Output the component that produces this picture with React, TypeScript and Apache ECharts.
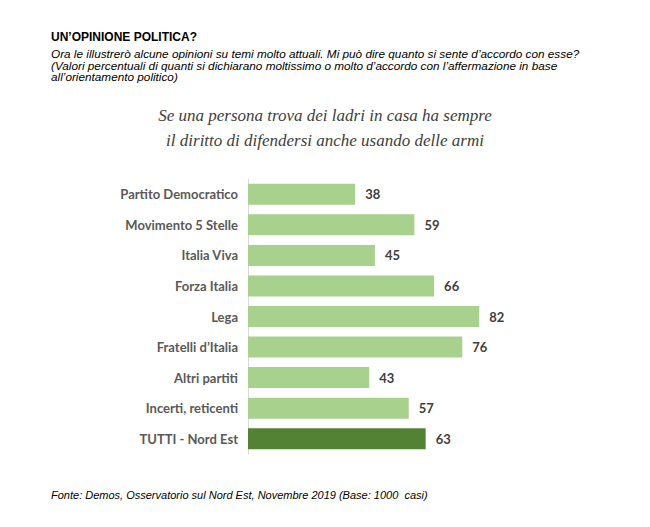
import React, { useEffect, useRef } from "react";
import * as echarts from "echarts";

const categories = [
  "Partito Democratico",
  "Movimento 5 Stelle",
  "Italia Viva",
  "Forza Italia",
  "Lega",
  "Fratelli d’Italia",
  "Altri partiti",
  "Incerti, reticenti",
  "TUTTI - Nord Est",
];
const values = [38, 59, 45, 66, 82, 76, 43, 57, 63];
const highlightIndex = 8;

const headerTitle = "UN’OPINIONE POLITICA?";
const headerLines = [
  "Ora le illustrerò alcune opinioni su temi molto attuali. Mi può dire quanto si sente d’accordo con esse?",
  "(Valori percentuali di quanti si dichiarano moltissimo o molto d’accordo con l’affermazione in base",
  "all’orientamento politico)",
];
const chartTitleLines = [
  "Se una persona trova dei ladri in casa ha sempre",
  "il diritto di difendersi anche usando delle armi",
];
const footer = "Fonte: Demos, Osservatorio sul Nord Est, Novembre 2019 (Base: 1000  casi)";

const LIGHT = "#a9d18e";
const DARK = "#548235";

export default function App() {
  const ref = useRef<HTMLDivElement>(null);
  useEffect(() => {
    if (!ref.current) return;
    const chart = echarts.init(ref.current, null, { renderer: "svg" });
    const sans = "Liberation Sans";
    const option: any = {
      animation: false,
      backgroundColor: "#ffffff",
      grid: { left: 248, top: 179, width: 282, height: 275, containLabel: false },
      xAxis: {
        type: "value",
        min: 0,
        max: 100,
        show: false,
      },
      yAxis: {
        type: "category",
        data: categories,
        inverse: true,
        axisLine: { show: true, lineStyle: { color: "#d9d9d9", width: 1 } },
        axisTick: { show: false },
        splitLine: { show: false },
        axisLabel: {
          margin: 10,
          color: "#595959",
          fontFamily: "Lato",
          fontWeight: "bold",
          fontSize: 13,
        },
      },
      series: [
        {
          type: "bar",
          barWidth: 21,
          data: values.map((v, i) => ({
            value: v,
            itemStyle: { color: i === highlightIndex ? DARK : LIGHT },
          })),
          label: {
            show: true,
            position: "right",
            distance: 10,
            color: "#404040",
            fontFamily: "Lato",
            fontWeight: "bold",
            fontSize: 13,
          },
        },
      ],
      graphic: [
        {
          type: "text",
          left: 51,
          top: 31,
          style: { text: headerTitle, fontFamily: sans, fontWeight: "bold", fontSize: 12, fill: "#000" },
        },
        ...headerLines.map((t, i) => ({
          type: "text",
          x: 51,
          y: 49 + i * 11.8,
          scaleX: 1.155,
          style: {
            text: t,
            fontFamily: sans,
            fontStyle: "italic",
            fontSize: 10.2,
            verticalAlign: "top",
            align: "left",
            fill: "#000",
          },
        })),
        ...chartTitleLines.map((t, i) => ({
          type: "text",
          left: "center",
          top: 107 + i * 25,
          style: {
            text: t,
            fontFamily: "Liberation Serif, serif",
            fontStyle: "italic",
            fontSize: 17,
            fill: "#404040",
          },
        })),
        {
          type: "text",
          left: 51,
          top: 489,
          style: { text: footer, fontFamily: sans, fontStyle: "italic", fontSize: 11, fill: "#000" },
        },
      ],
    };
    chart.setOption(option);
    return () => chart.dispose();
  }, []);
  return (
    <div
      ref={ref}
      style={{ position: "fixed", left: 0, top: 0, width: 650, height: 527 }}
    />
  );
}
